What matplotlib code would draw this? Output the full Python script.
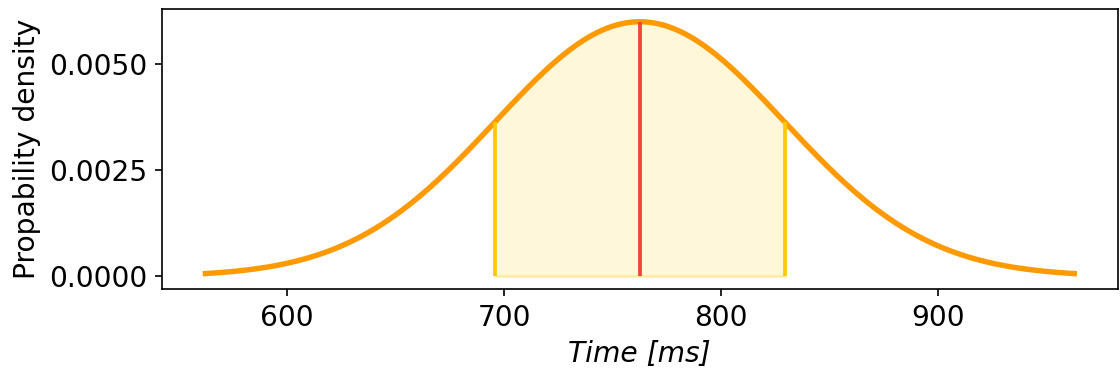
import numpy as np
import matplotlib.pyplot as plt

# distribution parameters
mean_ms = 762.5
std_ms = 66.7
n_std_range = 3
n_std_band = 1
x_ticks = [600, 700, 800, 900]
y_ticks = [0, 0.0025, 0.005]
y_tick_labels = ['0.0000', '0.0025', '0.0050']

x = np.linspace(mean_ms - n_std_range * std_ms, mean_ms + n_std_range * std_ms, 400)
pdf = np.exp(-0.5 * ((x - mean_ms) / std_ms) ** 2) / (std_ms * np.sqrt(2 * np.pi))

lo = mean_ms - n_std_band * std_ms
hi = mean_ms + n_std_band * std_ms
peak = 1 / (std_ms * np.sqrt(2 * np.pi))
band_h = peak * np.exp(-0.5 * n_std_band ** 2)

plt.rcParams['font.size'] = 13.5
fig = plt.figure(figsize=(7.4733, 2.5), dpi=150)
ax = fig.add_axes([0.1445, 0.229, 0.8525, 0.747])

mask = (x >= lo) & (x <= hi)
ax.fill_between(x[mask], pdf[mask], color='#ffcc00', alpha=0.15, linewidth=0)
ax.plot([lo, hi], [0, 0], color='#ffcc00', alpha=0.3, lw=1.2)
ax.plot(x, pdf, color='#ff9900', lw=2.6)
ax.vlines([lo, hi], 0, band_h, color='#ffc800', lw=1.8)
ax.vlines(mean_ms, 0, peak, color='#f44336', lw=1.8)

ax.set_xticks(x_ticks)
ax.set_yticks(y_ticks)
ax.set_yticklabels(y_tick_labels)
ax.set_xlabel('Time [ms]', style='italic')
ax.set_ylabel('Propability density')

plt.savefig('out.png', dpi=150)
